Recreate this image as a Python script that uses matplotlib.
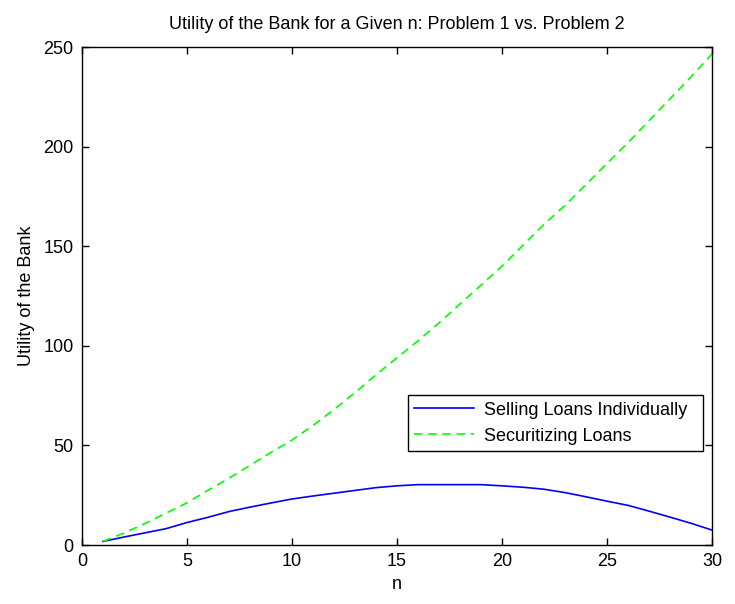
import matplotlib
matplotlib.use("Agg")
import matplotlib.pyplot as plt

n = list(range(1, 31))
selling = [1.8, 4.0, 6.1, 8.2, 11.3, 13.9, 16.8, 19.0, 21.1, 23.1,
           24.6, 26.0, 27.4, 28.8, 29.7, 30.3, 30.3, 30.3, 30.3, 29.7,
           29.0, 28.0, 26.3, 24.2, 22.0, 19.9, 17.0, 14.0, 10.9, 7.5]
securitizing = [1.8, 6.0, 10.8, 16.0, 21.2, 27.5, 33.5, 40.0, 46.5, 52.7,
                60.0, 68.0, 76.5, 85.5, 94.0, 102.5, 111.5, 121.0, 130.5, 140.0,
                150.5, 161.0, 170.5, 181.0, 191.6, 202.0, 213.0, 224.0, 235.0, 246.5]
xticks = [0, 5, 10, 15, 20, 25, 30]
yticks = [0, 50, 100, 150, 200, 250]

plt.rcParams['font.family'] = ['Liberation Sans', 'DejaVu Sans']
plt.rcParams['font.size'] = 13

fig = plt.figure(figsize=(7.35, 6.04), dpi=100)
ax = fig.add_axes([82/735, 59/604, 630/735, 498/604])

ax.plot(n, selling, color='#0000FF', lw=1.2, label='Selling Loans Individually')
ax.plot(n, securitizing, color='#00FF00', lw=1.2, linestyle=(0, (5, 3.5)),
        label='Securitizing Loans')

ax.set_xlim(0, 30)
ax.set_ylim(0, 250)
ax.set_xticks(xticks)
ax.set_yticks(yticks)
ax.tick_params(direction='in', top=True, right=True, length=5, width=1,
               labelsize=13, pad=6)
for s in ax.spines.values():
    s.set_linewidth(1.0)

ax.set_title('Utility of the Bank for a Given n: Problem 1 vs. Problem 2',
             fontsize=13, pad=13)
ax.set_xlabel('n', fontsize=13, labelpad=4)
ax.set_ylabel('Utility of the Bank', fontsize=13, labelpad=6)

leg = ax.legend(loc='lower left', bbox_to_anchor=(0.517, 0.189, 0.469, 0.122),
                mode='expand', fancybox=False, framealpha=1, edgecolor='black',
                fontsize=13, handlelength=3.3, borderaxespad=0, borderpad=0.35,
                labelspacing=0.5, handletextpad=0.55)
leg.get_frame().set_linewidth(1.0)

fig.savefig('out.png', dpi=100)
